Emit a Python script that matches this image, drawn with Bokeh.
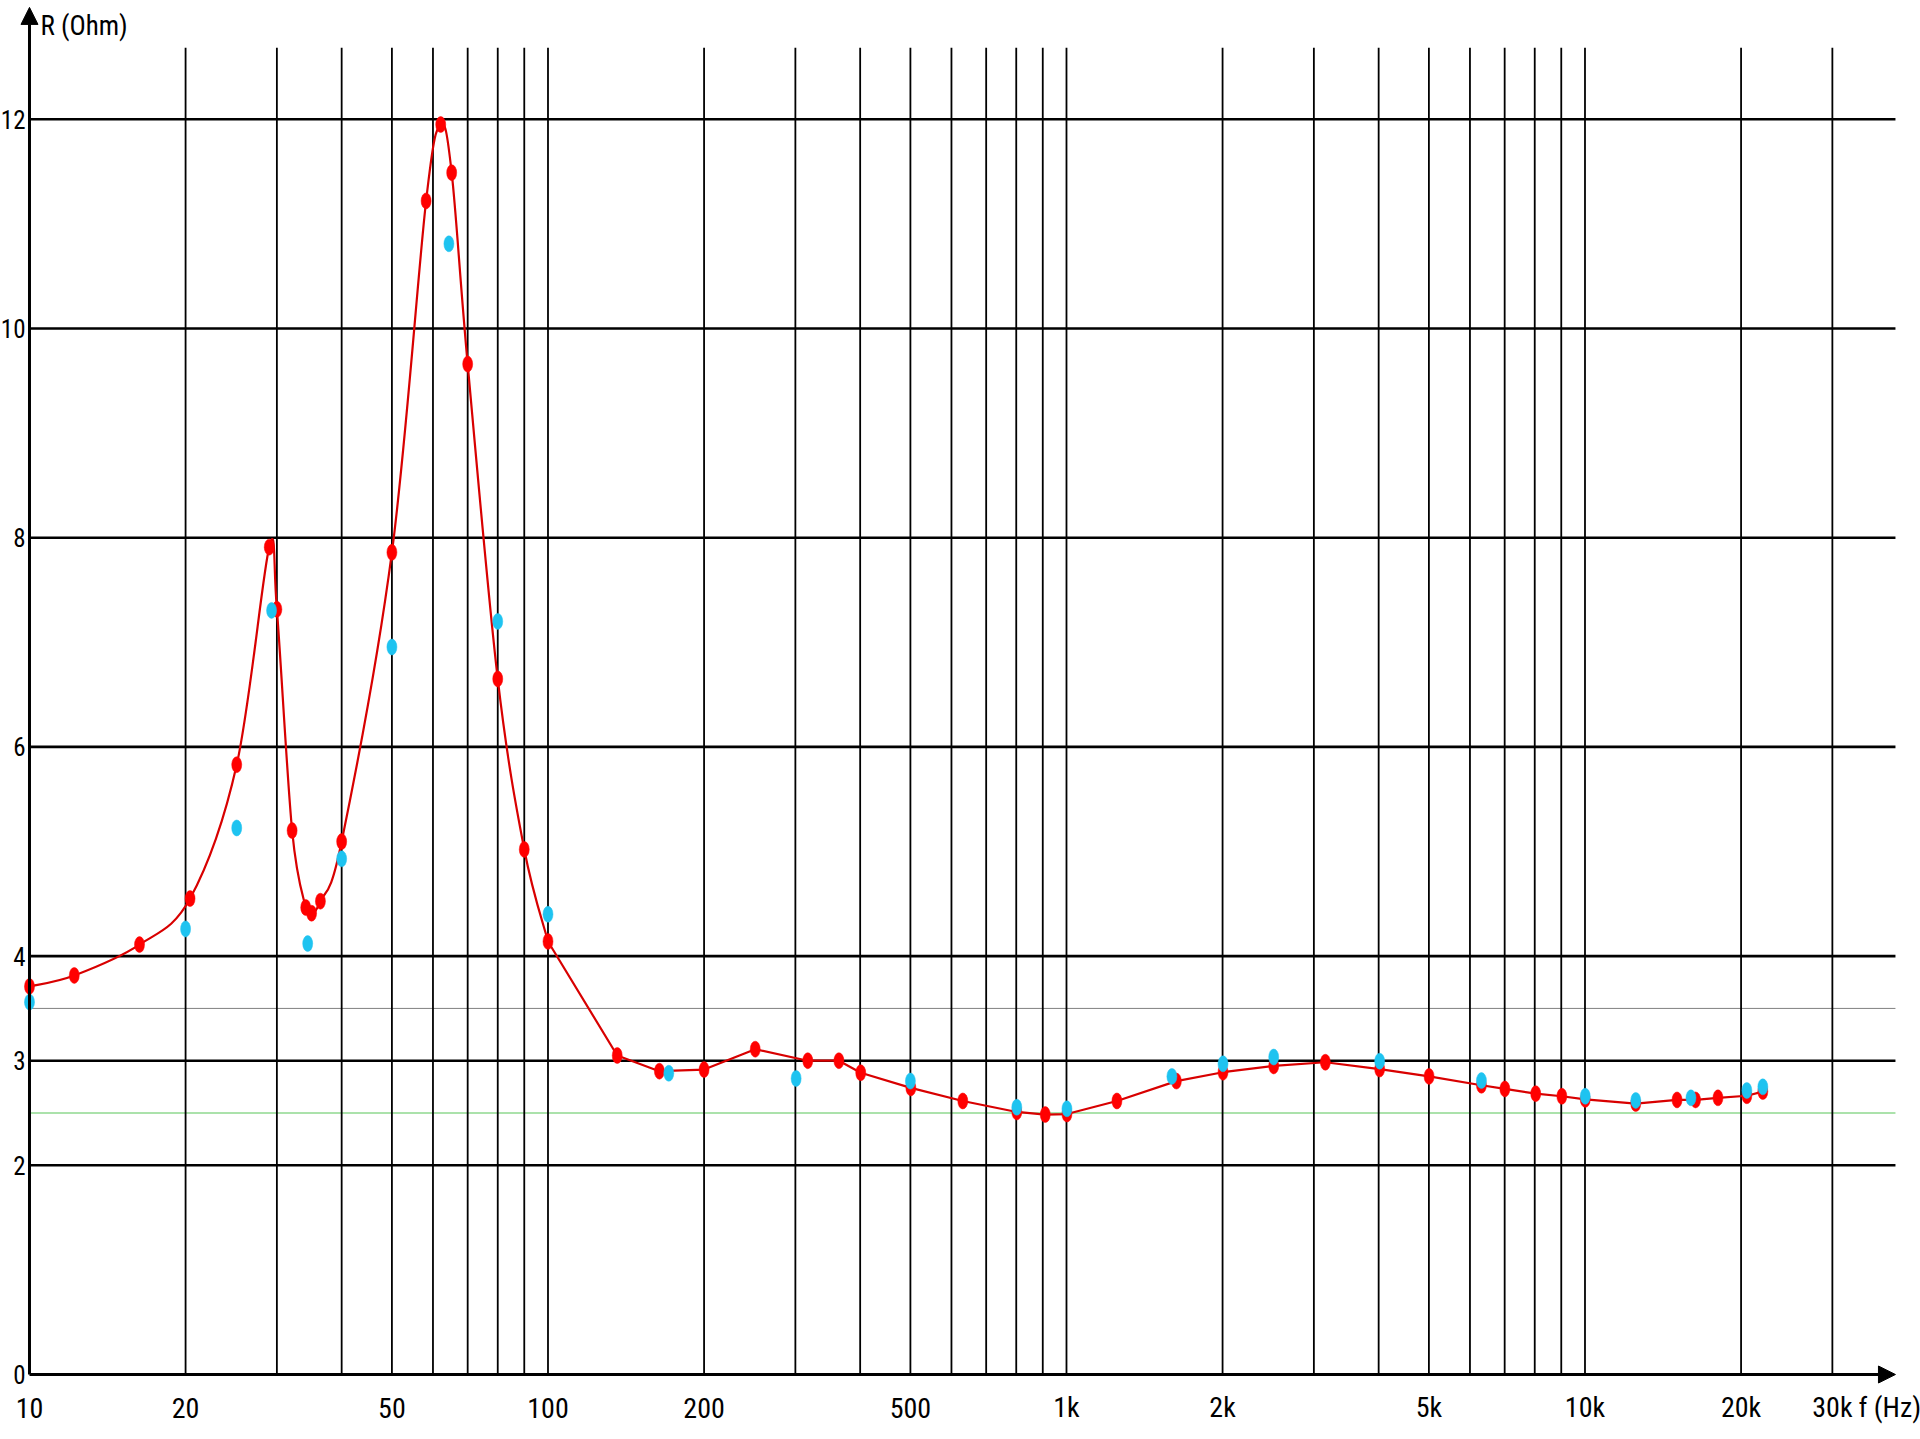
import numpy as np
from bokeh.plotting import figure
from bokeh.models import Range1d, Arrow, NormalHead, ColumnDataSource
from bokeh.core.properties import value
from bokeh.embed import file_html
from bokeh.resources import INLINE

# ---------------- data ----------------
red_f = [10, 12.2, 16.3, 20.4, 25.1, 29.0, 30.0, 32.1, 34.1, 35.0, 36.4, 40, 50,
         58.2, 62.1, 65.2, 70, 80, 90, 100, 136, 164, 200, 251, 317, 364, 401,
         501, 631, 802, 910, 1002, 1251, 1629, 2004, 2510, 3157, 4018, 5004,
         6314, 7006, 8035, 9024, 10012, 12530, 15050, 16340, 18050, 20520, 22030]
red_r = [3.71, 3.815, 4.11, 4.55, 5.83, 7.91, 7.315, 5.20, 4.465, 4.41, 4.525, 5.095, 7.86,
         11.22, 11.95, 11.49, 9.66, 6.65, 5.02, 4.14, 3.05, 2.90, 2.915, 3.11, 3.00, 3.00, 2.885,
         2.74, 2.615, 2.51, 2.485, 2.49, 2.615, 2.805, 2.89, 2.95, 2.985, 2.92, 2.85,
         2.765, 2.73, 2.685, 2.66, 2.63, 2.59, 2.625, 2.625, 2.645, 2.665, 2.705]

cyan_f = [10, 20.0, 25.1, 29.3, 34.4, 40, 50, 64.4, 80, 100, 171, 301, 500, 802,
          1002, 1597, 2004, 2510, 4018, 6314, 10012, 12530, 16010, 20520, 22030]
cyan_r = [3.56, 4.26, 5.225, 7.305, 4.12, 4.93, 6.955, 10.81, 7.20, 4.40, 2.88, 2.83, 2.805, 2.555,
          2.54, 2.85, 2.97, 3.035, 2.995, 2.81, 2.66, 2.62, 2.645, 2.715, 2.75]

x_grid = [20, 30, 40, 50, 60, 70, 80, 90,
          100, 200, 300, 400, 500, 600, 700, 800, 900,
          1000, 2000, 3000, 4000, 5000, 6000, 7000, 8000, 9000,
          10000, 20000, 30000]
y_grid = [2, 3, 4, 6, 8, 10, 12]
x_tick_vals = [10, 20, 50, 100, 200, 500, 1000, 2000, 5000, 10000, 20000, 30000]
x_tick_text = ["10", "20", "50", "100", "200", "500", "1k", "2k", "5k", "10k", "20k", "30k"]
y_tick_vals = [0, 2, 3, 4, 6, 8, 10, 12]
y_tick_text = ["0", "2", "3", "4", "6", "8", "10", "12"]
gray_ref = [3.5]
green_ref = [2.5]
x_title = "f (Hz)"
y_title = "R (Ohm)"

# ---------------- layout / style constants ----------------
X0 = 10            # y axis position
X_END = 39700      # end of x axis arrow
Y_END = 13.07      # end of y axis arrow
GRID_TOP = 12.685  # top of vertical grid lines
SMOOTH_UNTIL = 100 # the red curve is smoothed up to here, straight segments after
FONT = value("Roboto Condensed")
RED_LINE = "#d80000"
RED_DOT = "#ff0000"
CYAN = "#1ec3f0"

p = figure(width=1920, height=1439, x_axis_type="log",
           x_range=Range1d(8.7918, 44370), y_range=Range1d(-0.6214, 13.136),
           x_axis_location=None, y_axis_location=None,
           toolbar_location=None, output_backend="svg", title=None,
           min_border=0, outline_line_color=None)
for g in p.grid:
    g.visible = False
p.background_fill_color = "white"
p.border_fill_color = "white"

# reference lines
p.segment(x0=[X0], y0=gray_ref, x1=[X_END], y1=gray_ref, line_color="#808080", line_width=1)
p.segment(x0=[X0], y0=green_ref, x1=[X_END], y1=green_ref, line_color="#8fd98f", line_width=1.5)

# grid
p.segment(x0=x_grid, y0=[0] * len(x_grid), x1=x_grid, y1=[GRID_TOP] * len(x_grid),
          line_color="black", line_width=1.8)
p.segment(x0=[X0] * len(y_grid), y0=y_grid, x1=[X_END] * len(y_grid), y1=y_grid,
          line_color="black", line_width=2.6)

# axes with arrows
p.add_layout(Arrow(end=NormalHead(size=17, fill_color="black", line_color="black", line_width=1),
                   x_start=X0, y_start=0, x_end=X_END, y_end=0,
                   line_color="black", line_width=3))
p.add_layout(Arrow(end=NormalHead(size=17, fill_color="black", line_color="black", line_width=1),
                   x_start=X0, y_start=0, x_end=X0, y_end=Y_END,
                   line_color="black", line_width=3))

# red curve: Catmull-Rom pieces (as Bezier) through the low-frequency red points,
# then straight segments
fa = np.array(red_f, dtype=float)
ra = np.array(red_r, dtype=float)
k = int(np.searchsorted(fa, SMOOTH_UNTIL))
lx = np.log10(fa[:k + 1])
ry = ra[:k + 1]
n = len(lx)
px = np.concatenate([[lx[0]], lx, [lx[-1]]])
py = np.concatenate([[ry[0]], ry, [ry[-1]]])
c0x = lx[:-1] + (px[2:n + 1] - px[0:n - 1]) / 6.0
c0y = ry[:-1] + (py[2:n + 1] - py[0:n - 1]) / 6.0
c1x = lx[1:] - (px[3:n + 2] - px[1:n]) / 6.0
c1y = ry[1:] - (py[3:n + 2] - py[1:n]) / 6.0
c0x = np.minimum(c0x, lx[1:])
c1x = np.maximum(c1x, lx[:-1])
curve = ColumnDataSource(dict(x0=10 ** lx[:-1], y0=ry[:-1], x1=10 ** lx[1:], y1=ry[1:],
                              cx0=10 ** c0x, cy0=c0y, cx1=10 ** c1x, cy1=c1y))
p.bezier(x0="x0", y0="y0", x1="x1", y1="y1", cx0="cx0", cy0="cy0", cx1="cx1", cy1="cy1",
         source=curve, line_color=RED_LINE, line_width=2.2)
p.line(x=fa[k:], y=ra[k:], line_color=RED_LINE, line_width=2.2, line_join="round")

# points
p.ellipse(x=red_f, y=red_r, width=10, height=16, width_units="screen", height_units="screen",
          fill_color=RED_DOT, line_color=RED_DOT, line_width=0.5)
p.ellipse(x=cyan_f, y=cyan_r, width=10, height=16, width_units="screen", height_units="screen",
          fill_color=CYAN, line_color=CYAN, line_width=0.5)

# tick labels
p.text(x=x_tick_vals, y=[0] * len(x_tick_vals), text=x_tick_text,
       text_font=FONT, text_font_size="28px", text_color="black",
       text_align="center", text_baseline="middle", y_offset=33)
p.text(x=[X0] * len(y_tick_vals), y=y_tick_vals, text=y_tick_text,
       text_font=FONT, text_font_size="25px", text_color="black",
       text_align="right", text_baseline="middle", x_offset=-4)

# axis titles
p.text(x=[X_END], y=[0], text=[x_title], text_font=FONT,
       text_font_size="28px", text_color="black", text_align="left", text_baseline="middle",
       x_offset=-37, y_offset=33)
p.text(x=[X0], y=[Y_END], text=[y_title], text_font=FONT,
       text_font_size="27px", text_color="black", text_align="left", text_baseline="middle",
       x_offset=11, y_offset=19)

open("out.html", "w").write(file_html(p, INLINE))
